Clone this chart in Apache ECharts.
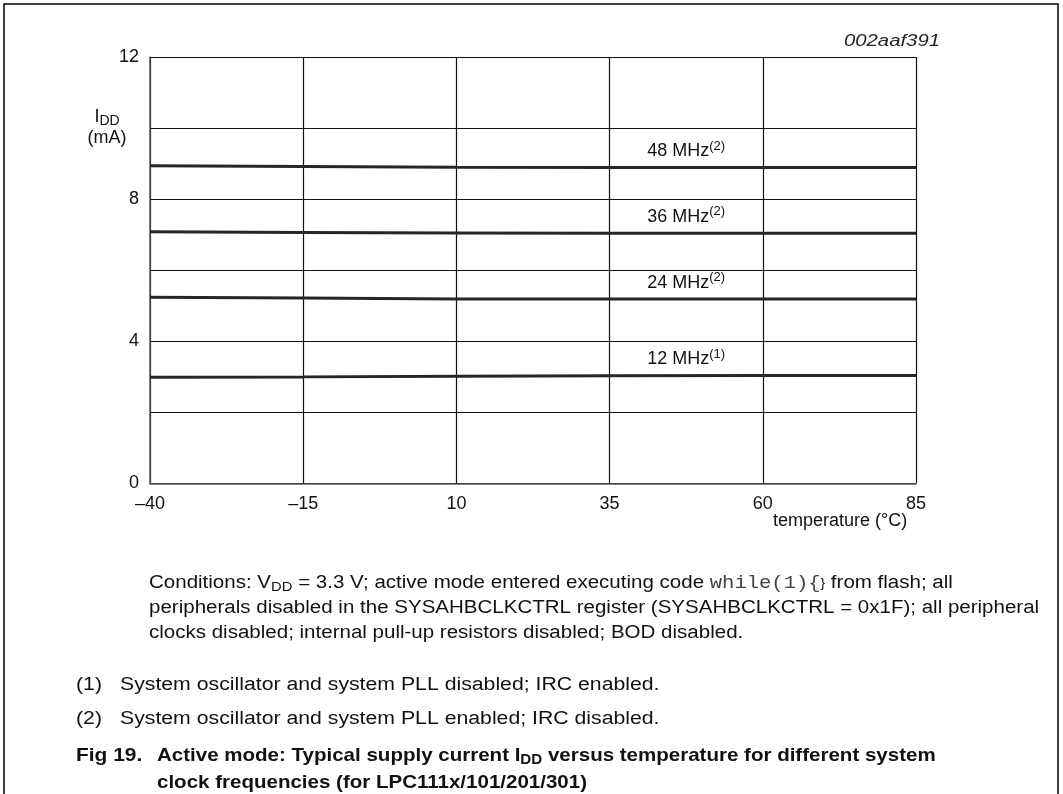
<!DOCTYPE html>
<html>
<head>
<meta charset="utf-8">
<script src="https://cdn.jsdelivr.net/npm/echarts@6/dist/echarts.min.js"></script>
<style>html,body{margin:0;padding:0;background:#fff}#c{width:1063px;height:794px}</style>
</head>
<body>
<div id="c"></div>
<script>
// ---- data ----
const temps = [-40, -15, 10, 35, 60, 85];
const i48 = [8.94, 8.92, 8.90, 8.89, 8.89, 8.89];
const i36 = [7.08, 7.06, 7.05, 7.04, 7.04, 7.04];
const i24 = [5.24, 5.22, 5.19, 5.19, 5.19, 5.19];
const i12 = [2.99, 3.00, 3.02, 3.03, 3.04, 3.04];
const seriesNames = ['48 MHz', '36 MHz', '24 MHz', '12 MHz'];
const seriesNotes = ['(2)', '(2)', '(2)', '(1)'];
const yTickLabels = [0, 4, 8, 12];

const FONT = '"Liberation Sans", Arial, sans-serif';
const allData = [i48, i36, i24, i12];

const series = allData.map((arr, k) => {
  const midT = (temps[3] + temps[4]) / 2;
  const midV = (arr[3] + arr[4]) / 2;
  return {
    type: 'line',
    name: seriesNames[k],
    data: temps.map((t, i) => [t, arr[i]]),
    showSymbol: false,
    symbol: 'none',
    lineStyle: { color: '#262626', width: 3 },
    silent: true,
    z: 5,
    markPoint: {
      symbol: 'circle', symbolSize: 0,
      data: [{ coord: [midT, midV] }],
      label: {
        show: true, position: 'top', distance: 5,
        formatter: '{a|' + seriesNames[k] + '}{s|' + seriesNotes[k] + '}',
        rich: {
          a: { fontFamily: FONT, fontSize: 18, color: '#111' },
          s: { fontFamily: FONT, fontSize: 13, color: '#111', padding: [0, 0, 10, 0] }
        }
      }
    }
  };
});

const chart = echarts.init(document.getElementById('c'), null, { renderer: 'canvas' });
chart.setOption({
  animation: false,
  backgroundColor: '#fff',
  grid: { left: 150, right: 147, top: 57, bottom: 310.5 },
  xAxis: {
    type: 'value', min: -40, max: 85, interval: 25,
    axisLine: { show: true, onZero: false, lineStyle: { color: '#555', width: 1.5 } },
    axisTick: { show: false },
    splitLine: { show: true, lineStyle: { color: '#111', width: 1.2 } },
    axisLabel: {
      fontFamily: FONT, fontSize: 18, color: '#111', margin: 12,
      formatter: v => String(v).replace('-', '\u2013')
    }
  },
  yAxis: {
    type: 'value', min: 0, max: 12, interval: 2,
    axisLine: { show: true, onZero: false, lineStyle: { color: '#555', width: 1.5 } },
    axisTick: { show: false },
    splitLine: { show: true, lineStyle: { color: '#111', width: 1 } },
    axisLabel: {
      fontFamily: FONT, fontSize: 18, color: '#111', margin: 11,
      formatter: v => yTickLabels.indexOf(v) >= 0 ? String(v) : ''
    }
  },
  series: series,
  graphic: [
    { type: 'polyline', shape: { points: [[4, 794], [4, 4], [1058, 4], [1058, 794]] },
      style: { stroke: '#000', lineWidth: 1.5, fill: null } },
    { type: 'text', x: 940, y: 34, scaleX: 1.27,
      style: { text: '002aaf391', font: 'italic 16px ' + FONT, fill: '#222', align: 'right' } },
    { type: 'text', x: 107, y: 107,
      style: { text: '{a|I}{b|DD}\n{c|(mA)}', align: 'center', rich: {
        a: { fontFamily: FONT, fontSize: 18, fill: '#111', lineHeight: 21 },
        b: { fontFamily: FONT, fontSize: 14, fill: '#111', padding: [8, 0, 0, 0], lineHeight: 21 },
        c: { fontFamily: FONT, fontSize: 18, fill: '#111', lineHeight: 21 }
      }, font: '18px ' + FONT } },
    { type: 'text', left: 773, top: 512,
      style: { text: 'temperature (\u00B0C)', font: '18px ' + FONT, fill: '#111' } },
    { type: 'text', x: 149, y: 571, scaleX: 1.14,
      style: {
        text: '{t|Conditions: V}{sub|DD}{t| = 3.3 V; active mode entered executing code }{m|while(1)\u007B\u007D}{t| from flash; all}\n' +
              '{t|peripherals disabled in the SYSAHBCLKCTRL register (SYSAHBCLKCTRL = 0x1F); all peripheral}\n' +
              '{t|clocks disabled; internal pull-up resistors disabled; BOD disabled.}',
        rich: {
          t: { fontFamily: FONT, fontSize: 18, fill: '#111', lineHeight: 25 },
          sub: { fontFamily: FONT, fontSize: 13, fill: '#111', padding: [8, 0, 0, 0], lineHeight: 25 },
          m: { fontFamily: '"Liberation Mono", "DejaVu Sans Mono", monospace', fontSize: 18, fill: '#444', lineHeight: 25 }
        }
      } },
    { type: 'text', x: 76, y: 676, scaleX: 1.18, style: { text: '(1)', font: '18px ' + FONT, fill: '#111' } },
    { type: 'text', x: 120, y: 676, scaleX: 1.18, style: { text: 'System oscillator and system PLL disabled; IRC enabled.', font: '18px ' + FONT, fill: '#111' } },
    { type: 'text', x: 76, y: 710, scaleX: 1.18, style: { text: '(2)', font: '18px ' + FONT, fill: '#111' } },
    { type: 'text', x: 120, y: 710, scaleX: 1.18, style: { text: 'System oscillator and system PLL enabled; IRC disabled.', font: '18px ' + FONT, fill: '#111' } },
    { type: 'text', x: 76, y: 746, scaleX: 1.1, style: { text: 'Fig 19.', font: 'bold 19px ' + FONT, fill: '#111' } },
    { type: 'text', x: 157, y: 742, scaleX: 1.08,
      style: { text: '{b|Active mode: Typical supply current I}{s|DD}{b| versus temperature for different system}\n{b|clock frequencies (for LPC111x/101/201/301)}',
        rich: {
          b: { fontFamily: FONT, fontSize: 19, fontWeight: 'bold', fill: '#111', lineHeight: 27 },
          s: { fontFamily: FONT, fontSize: 14, fontWeight: 'bold', fill: '#111', padding: [9, 0, 0, 0], lineHeight: 27 }
        } } }
  ]
});
</script>
</body>
</html>
